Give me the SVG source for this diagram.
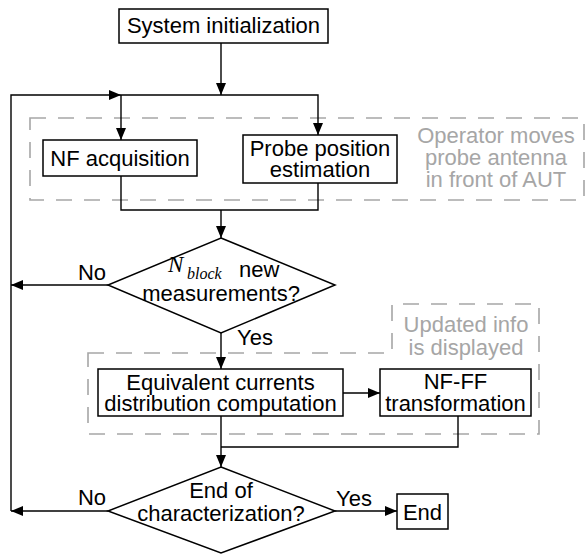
<svg xmlns="http://www.w3.org/2000/svg" width="587" height="554" viewBox="0 0 587 554">
<style>
text{font-family:"Liberation Sans",Arial,sans-serif;font-size:22px;fill:#000}
.c{text-anchor:middle}
.g{fill:#a6a6a6}
.box{fill:#fff;stroke:#000;stroke-width:1.5}
.ln{fill:none;stroke:#000;stroke-width:1.4}
.dash{fill:none;stroke:#a6a6a6;stroke-width:1.6;stroke-dasharray:16 12}
.m{font-family:"Liberation Serif","Times New Roman",serif;font-style:italic}
</style>
<defs>
<marker id="ah" markerUnits="userSpaceOnUse" markerWidth="12" markerHeight="10" refX="12" refY="5" orient="auto">
<path d="M0,0 L12,5 L0,10 Z" fill="#000"/>
</marker>
</defs>
<g id="regions">
<rect class="dash" x="30" y="118" width="554" height="82"/>
<path class="dash" d="M88,353 H392 V304 H539 V434 H88 Z"/>
<text class="c g" x="496" y="143">Operator moves</text>
<text class="c g" x="496" y="165">probe antenna</text>
<text class="c g" x="496" y="187">in front of AUT</text>
<text class="c g" x="466" y="332">Updated info</text>
<text class="c g" x="466" y="355">is displayed</text>
</g>
<g id="connectors">
<path class="ln" d="M221,43 V95" marker-end="url(#ah)"/>
<path class="ln" d="M11,511 V95 H121" marker-end="url(#ah)"/>
<path class="ln" d="M121,95 H318 V135" marker-end="url(#ah)"/>
<path class="ln" d="M121,95 V140" marker-end="url(#ah)"/>
<path class="ln" d="M121,176 V210 H318 V183"/>
<path class="ln" d="M221,210 V238" marker-end="url(#ah)"/>
<path class="ln" d="M108,285 H11" marker-end="url(#ah)"/>
<path class="ln" d="M221,333 V369" marker-end="url(#ah)"/>
<path class="ln" d="M343,393 H380" marker-end="url(#ah)"/>
<path class="ln" d="M221,416 V467" marker-end="url(#ah)"/>
<path class="ln" d="M458,416 V447 H221"/>
<path class="ln" d="M108,511 H11" marker-end="url(#ah)"/>
<path class="ln" d="M335,511 H397" marker-end="url(#ah)"/>
<text x="106" y="280" style="text-anchor:end">No</text>
<text x="237" y="345">Yes</text>
<text x="106" y="505" style="text-anchor:end">No</text>
<text x="336" y="506">Yes</text>
</g>
<g id="init">
<rect class="box" x="119" y="9" width="209" height="34"/>
<text class="c" x="223.5" y="33">System initialization</text>
</g>
<g id="nf-acq">
<rect class="box" x="43" y="140" width="154" height="36"/>
<text class="c" x="120" y="166">NF acquisition</text>
</g>
<g id="probe-pos">
<rect class="box" x="243" y="135" width="154" height="48"/>
<text class="c" x="320" y="156">Probe position</text>
<text class="c" x="320" y="177">estimation</text>
</g>
<g id="decision1">
<polygon class="box" points="221,238 335,285 221,333 108,285"/>
<text class="m" x="168" y="272" style="font-size:23px">N</text>
<text class="m" x="187" y="279" style="font-size:16px">block</text>
<text x="239" y="277">new</text>
<text class="c" x="221" y="301">measurements?</text>
</g>
<g id="equiv">
<rect class="box" x="98" y="369" width="245" height="47"/>
<text class="c" x="220.5" y="390">Equivalent currents</text>
<text class="c" x="220.5" y="411">distribution computation</text>
</g>
<g id="nfff">
<rect class="box" x="380" y="369" width="151" height="47"/>
<text class="c" x="455.5" y="389">NF-FF</text>
<text class="c" x="455.5" y="411">transformation</text>
</g>
<g id="decision2">
<polygon class="box" points="221,467 335,511 221,553 108,511"/>
<text class="c" x="221" y="498">End of</text>
<text class="c" x="221" y="521">characterization?</text>
</g>
<g id="end">
<rect class="box" x="397" y="494" width="51" height="35"/>
<text class="c" x="422.5" y="520">End</text>
</g>
</svg>
